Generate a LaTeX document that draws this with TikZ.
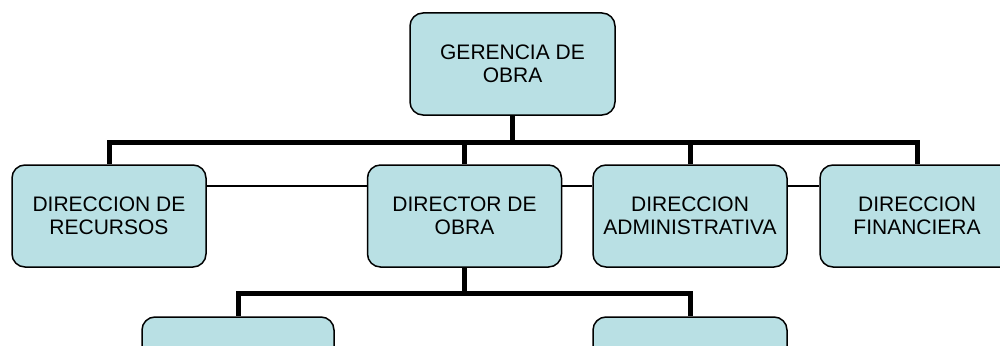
\documentclass[tikz,border=0pt]{standalone}
\usepackage{fontspec}
\setmainfont{Liberation Sans}
\usepackage{tikz}
\definecolor{boxblue}{RGB}{185,224,228}

\begin{document}
\begin{tikzpicture}[x=1pt, y=-1pt,
		cargo/.style={draw=black, line width=1.5pt, fill=boxblue, rounded corners=13pt,
			minimum width=194pt, minimum height=102pt, inner sep=1pt, align=center,
			font=\fontsize{21}{23}\selectfont, execute at begin node={\rule{0pt}{23pt}}},
		bus/.style={line width=5pt},
		enlace/.style={line width=1.3pt}]
		\clip (0,0) rectangle (1000,345);
		% boxes:
		\node[cargo, minimum width=205pt] (ger) at (512.5,64) {GERENCIA DE\\OBRA};
		\node[cargo] (rec) at (109,216) {DIRECCION DE\\RECURSOS};
		\node[cargo] (dir) at (464.5,216) {DIRECTOR DE\\OBRA};
		\node[cargo] (adm) at (690,216) {DIRECCION\\ADMINISTRATIVA};
		\node[cargo] (fin) at (917,216) {DIRECCION\\FINANCIERA};
		\node[cargo, minimum width=192pt] (izq) at (238,368) {};
		\node[cargo] (der) at (690,368) {};
		% thick tree lines
		\coordinate (b1) at (512.5,142);
		\draw[bus] (ger.south) -- (b1);
		\foreach \n in {rec,dir,adm,fin}{
			\draw[bus] (b1) -| (\n.north);
		}
		\coordinate (b2) at (464.5,293);
		\draw[bus] (dir.south) -- (b2);
		\foreach \n in {izq,der}{
			\draw[bus] (b2) -| (\n.north);
		}
		% thin links between the boxes
		\foreach \a/\b in {rec/dir,dir/adm,adm/fin}{
			\draw[enlace] ([yshift=30pt]\a.east) -- ([yshift=30pt]\b.west);
		}
	\end{tikzpicture}
\end{document}
